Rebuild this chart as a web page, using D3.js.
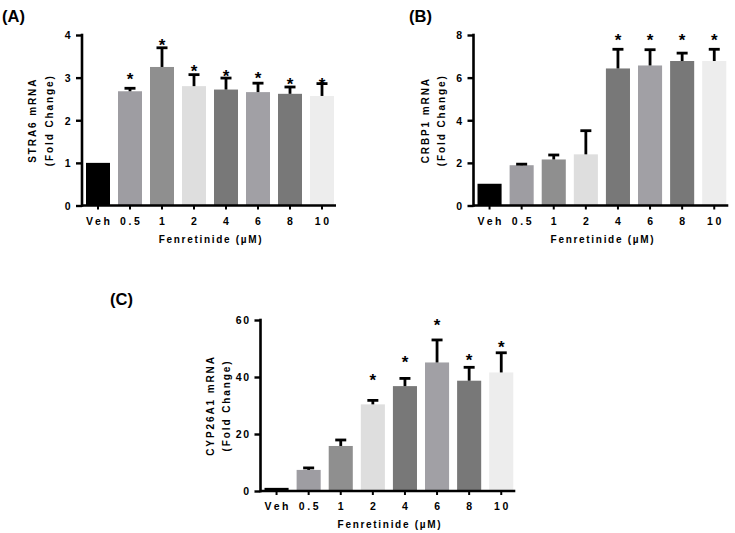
<!DOCTYPE html>
<html><head><meta charset="utf-8">
<script src="https://cdn.jsdelivr.net/npm/d3@7"></script>
<style>
body{margin:0;background:#fff}
text{font-family:"Liberation Sans",Arial,sans-serif;font-weight:bold;fill:#000}
</style>
</head><body>
<svg id="chart" width="735" height="533"></svg>
<script>
// ---- data ----
const categories = ["Veh", "0.5", "1", "2", "4", "6", "8", "10"];

const stra6Mean = [1.0, 2.68, 3.25, 2.80, 2.72, 2.66, 2.62, 2.57];
const stra6Sem  = [0, 0.07, 0.45, 0.27, 0.27, 0.21, 0.16, 0.29];
const stra6Star = [null, 3.04, 3.83, 3.23, 3.12, 3.06, 2.92, 2.92];
const stra6Ticks = [0, 1, 2, 3, 4];

const crbp1Mean = [1.02, 1.89, 2.16, 2.40, 6.43, 6.57, 6.78, 6.78];
const crbp1Sem  = [0, 0.05, 0.21, 1.11, 0.90, 0.74, 0.37, 0.55];
const crbp1Star = [null, null, null, null, 7.89, 7.89, 7.89, 7.89];
const crbp1Ticks = [0, 2, 4, 6, 8];

const cyp26Mean = [1.1, 7.4, 15.8, 30.4, 36.8, 45.1, 38.7, 41.6];
const cyp26Sem  = [0, 0.7, 2.1, 1.4, 2.7, 7.9, 4.7, 6.9];
const cyp26Star = [null, null, null, 40.1, 46.3, 59.3, 47.1, 51.6];
const cyp26Ticks = [0, 20, 40, 60];

const barColors = ["#000000", "#9e9da2", "#8f8f8f", "#dedede", "#787878", "#a1a0a5", "#787878", "#ededed"];

// ---- drawing ----
const svg = d3.select("#chart");

function panel(o) {
  const g = svg.append("g");
  const x = d3.scaleBand().domain(categories)
    .range([o.axisX, o.axisX + 8 * o.step])
    .paddingInner(0.25).paddingOuter(0.125);
  const y = d3.scaleLinear().domain([0, o.ticks[o.ticks.length - 1]]).range([o.bottom, o.top]);

  // bars
  g.selectAll("rect.bar").data(categories).join("rect")
    .attr("x", d => x(d))
    .attr("width", x.bandwidth())
    .attr("y", (d, i) => y(o.mean[i]))
    .attr("height", (d, i) => o.bottom - y(o.mean[i]))
    .attr("fill", (d, i) => barColors[i]);

  // error bars (upper only)
  const eb = categories.map((d, i) => ({c: d, m: o.mean[i], e: o.sem[i]})).filter(d => d.e > 0);
  g.selectAll("line.err").data(eb).join("line")
    .attr("x1", d => x(d.c) + x.bandwidth() / 2).attr("x2", d => x(d.c) + x.bandwidth() / 2)
    .attr("y1", d => y(d.m)).attr("y2", d => y(d.m + d.e))
    .attr("stroke", "#000").attr("stroke-width", 2.8);
  g.selectAll("line.cap").data(eb).join("line")
    .attr("x1", d => x(d.c) + x.bandwidth() / 2 - 5.5).attr("x2", d => x(d.c) + x.bandwidth() / 2 + 5.5)
    .attr("y1", d => y(d.m + d.e)).attr("y2", d => y(d.m + d.e))
    .attr("stroke", "#000").attr("stroke-width", 2.8);

  // stars
  const st = categories.map((d, i) => ({c: d, s: o.star[i]})).filter(d => d.s != null);
  g.selectAll("text.star").data(st).join("text")
    .attr("x", d => x(d.c) + x.bandwidth() / 2)
    .attr("y", d => y(d.s) + 9)
    .attr("text-anchor", "middle")
    .style("font-size", "17px")
    .text("*");

  // y axis
  const ya = g.append("g").attr("transform", `translate(${o.axisX},0)`)
    .call(d3.axisLeft(y).tickValues(o.ticks).tickSize(6).tickPadding(4).tickFormat(d3.format("d")));
  ya.select(".domain").attr("d", `M0,${o.bottom}V${o.top}`).attr("stroke-width", 2.6).attr("stroke-linecap", "square");
  ya.selectAll(".tick line").attr("stroke-width", 2.4);
  ya.selectAll(".tick text").style("font-size", "10.5px").style("letter-spacing", "1.5px")
    .attr("font-family", null).attr("font-size", null).attr("dy", "0.36em");

  // x axis
  const xa = g.append("g").attr("transform", `translate(0,${o.bottom})`)
    .call(d3.axisBottom(x).tickSize(4).tickPadding(8));
  xa.select(".domain").attr("d", `M${o.axisX},0H${o.axisX + 8 * o.step - 2}`).attr("stroke-width", 2.6);
  xa.selectAll(".tick line").attr("stroke-width", 2);
  xa.selectAll(".tick text").style("font-size", "10.5px").style("letter-spacing", "2.6px")
    .attr("font-family", null).attr("font-size", null).attr("dx", "1.3px");

  // x title
  g.append("text")
    .attr("x", o.axisX + 4 * o.step + 1).attr("y", o.bottom + 37)
    .attr("text-anchor", "middle").style("font-size", "10px").style("letter-spacing", "1.7px")
    .text("Fenretinide (\u00B5M)");

  // y title (two lines)
  const cy = (o.top + o.bottom) / 2;
  [[o.yTitle, o.tx1], ["(Fold Change)", o.tx2]].forEach(([t, tx]) => {
    g.append("text")
      .attr("transform", `translate(${tx},${cy}) rotate(-90)`)
      .attr("text-anchor", "middle").attr("dy", "0.36em")
      .style("font-size", "10px").style("letter-spacing", "1.9px")
      .text(t);
  });

  // panel letter
  g.append("text").attr("x", o.lx).attr("y", o.ly)
    .style("font-size", "16.5px").text(o.letter);
}

panel({letter: "(A)", lx: 2, ly: 22, axisX: 82, step: 32, top: 35, bottom: 205.5,
       ticks: stra6Ticks, mean: stra6Mean, sem: stra6Sem, star: stra6Star,
       yTitle: "STRA6 mRNA", tx1: 32, tx2: 49.5});
panel({letter: "(B)", lx: 409, ly: 22, axisX: 473.5, step: 32.1, top: 35, bottom: 205.5,
       ticks: crbp1Ticks, mean: crbp1Mean, sem: crbp1Sem, star: crbp1Star,
       yTitle: "CRBP1 mRNA", tx1: 425, tx2: 441.5});
panel({letter: "(C)", lx: 110, ly: 305, axisX: 260.5, step: 32.1, top: 320, bottom: 491,
       ticks: cyp26Ticks, mean: cyp26Mean, sem: cyp26Sem, star: cyp26Star,
       yTitle: "CYP26A1 mRNA", tx1: 210, tx2: 226.5});
</script>
</body></html>
